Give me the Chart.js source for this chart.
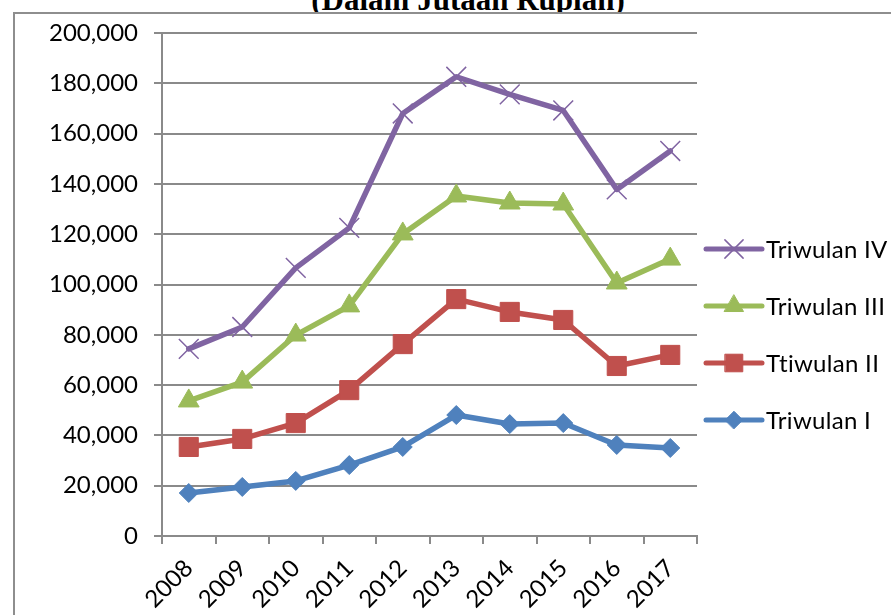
<!DOCTYPE html>
<html>
<head>
<meta charset="utf-8">
<script src="https://cdn.jsdelivr.net/npm/chart.js@4.4.1/dist/chart.umd.min.js"></script>
<style>
    body { margin: 0; background: #fff; }
    #wrap { position: relative; width: 891px; height: 615px; overflow: hidden; }
    #judul {
        position: absolute; left: 468px; top: -16px; transform: translateX(-50%);
        font: bold 31px "Liberation Serif", "Times New Roman", serif; line-height: 31px;
        white-space: nowrap; color: #000;
    }
    #kotak {
        position: absolute; left: 13px; top: 12px; width: 900px; height: 620px;
        border-left: 2px solid #8e8e8e; border-top: 2px solid #8e8e8e; background: #fff;
    }
    #grafik { position: absolute; left: 0; top: 0; }
</style>
</head>
<body>
<div id="wrap">
    <div id="judul">(Dalam Jutaan Rupiah)</div>
    <div id="kotak"></div>
    <canvas id="grafik" width="891" height="615"></canvas>
</div>
<script>
// data per triwulan (juta rupiah)
const tahun = ['2008', '2009', '2010', '2011', '2012', '2013', '2014', '2015', '2016', '2017'];
const triwulanI = [17100, 19500, 21900, 28200, 35400, 48100, 44500, 44900, 36200, 35000];
const triwulanII = [35400, 38600, 44900, 58000, 76300, 94200, 89100, 85900, 67600, 72000];
const triwulanIII = [53700, 61200, 79900, 91500, 120100, 135200, 132400, 132000, 100600, 110100];
const triwulanIV = [74400, 83100, 106600, 122500, 168000, 182600, 175600, 169200, 137800, 153100];
const namaSeri = ['Triwulan I', 'Ttiwulan II', 'Triwulan III', 'Triwulan IV'];

const abu = '#8a8a8a';
const hurufLabel = { family: 'Lato, "Liberation Sans", sans-serif', size: 24 };

function buatSeri(label, data, warna, bentuk, radius, tebalMarker) {
    return {
        label: label,
        data: data,
        borderColor: warna,
        backgroundColor: warna,
        borderWidth: 5.5,
        borderCapStyle: 'round',
        borderJoinStyle: 'round',
        tension: 0,
        pointStyle: bentuk,
        pointRadius: radius,
        pointBackgroundColor: warna,
        pointBorderColor: warna,
        pointBorderWidth: tebalMarker
    };
}

// legenda kanan: garis + marker, urutan terbalik (IV di atas)
const legendaKanan = {
    id: 'legendaKanan',
    afterDraw(chart) {
        const ctx = chart.ctx;
        const sets = chart.data.datasets.slice().reverse();
        const x0 = chart.chartArea.right + 9;
        sets.forEach((ds, i) => {
            const y = 249 + i * 57;
            ctx.save();
            ctx.strokeStyle = ds.borderColor;
            ctx.lineWidth = 5;
            ctx.lineCap = 'round';
            ctx.beginPath();
            ctx.moveTo(x0, y);
            ctx.lineTo(x0 + 56, y);
            ctx.stroke();
            ctx.fillStyle = ds.pointBackgroundColor;
            ctx.lineWidth = ds.pointBorderWidth;
            Chart.helpers.drawPoint(ctx, {
                pointStyle: ds.pointStyle,
                radius: ds.pointRadius * 0.92,
                rotation: 0,
                borderWidth: ds.pointBorderWidth
            }, x0 + 28, y);
            ctx.fillStyle = '#000';
            ctx.font = hurufLabel.size + 'px ' + hurufLabel.family;
            // spasi kecil supaya "ti" tidak jadi ligatur
            ctx.letterSpacing = '0.3px';
            ctx.textBaseline = 'middle';
            ctx.textAlign = 'left';
            ctx.fillText(ds.label, x0 + 60, y + 1);
            ctx.restore();
        });
    }
};

new Chart(document.getElementById('grafik'), {
    type: 'line',
    data: {
        labels: tahun,
        datasets: [
            buatSeri(namaSeri[0], triwulanI, '#4f81bd', 'rectRot', 9.5, 1),
            buatSeri(namaSeri[1], triwulanII, '#c0504d', 'rect', 13.5, 1),
            buatSeri(namaSeri[2], triwulanIII, '#9bbb59', 'triangle', 12, 1),
            buatSeri(namaSeri[3], triwulanIV, '#8064a2', 'crossRot', 14, 1.5)
        ]
    },
    options: {
        responsive: false,
        animation: false,
        layout: { padding: { top: 33, right: 194, bottom: 0, left: 0 } },
        plugins: {
            legend: { display: false },
            tooltip: { enabled: false }
        },
        scales: {
            x: {
                offset: true,
                grid: { drawOnChartArea: false, offset: true, tickLength: 8, color: abu, lineWidth: 2 },
                border: { color: abu, width: 2 },
                ticks: { color: '#000', font: hurufLabel, minRotation: 45, maxRotation: 45, padding: 10 },
                afterFit(scale) { scale.height = 79; }
            },
            y: {
                min: 0,
                max: 200000,
                grid: { color: abu, lineWidth: 2, tickLength: 8 },
                border: { color: abu, width: 2 },
                ticks: {
                    stepSize: 20000,
                    color: '#000',
                    font: hurufLabel,
                    padding: 16,
                    callback: v => v.toLocaleString('en-US')
                },
                afterFit(scale) { scale.width = 162; }
            }
        }
    },
    plugins: [legendaKanan]
});
</script>
</body>
</html>
